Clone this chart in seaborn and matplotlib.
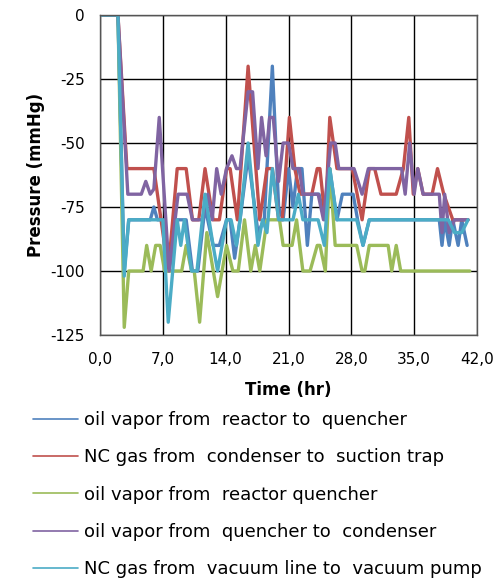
import matplotlib
matplotlib.use("Agg")
import matplotlib.pyplot as plt
import seaborn as sns
import pandas as pd

# ---- data ----
labels = [
    "oil vapor from  reactor to  quencher",
    "NC gas from  condenser to  suction trap",
    "oil vapor from  reactor quencher",
    "oil vapor from  quencher to  condenser",
    "NC gas from  vacuum line to  vacuum pump",
]
colors = ["#4F81BD", "#C0504D", "#9BBB59", "#8064A2", "#4BACC6"]

blue_t = [0, 2.0, 2.7, 3.2, 5.6, 6.0, 6.4, 7.0, 7.7, 8.6, 9.6, 10.3, 10.9, 11.7, 12.6, 13.3,
          14.1, 14.5, 15.0, 15.6, 16.5, 17.6, 18.3, 19.2, 19.9, 20.4, 21.0, 21.5, 22.0, 22.5,
          23.1, 23.6, 24.4, 25.1, 25.6, 26.4, 27.0, 28.2, 28.7, 29.3, 30.0, 37.8, 38.1, 38.4,
          38.9, 39.3, 39.9, 40.3, 40.9]
blue_v = [0, 0, -100, -80, -80, -75, -80, -80, -100, -80, -80, -100, -100, -75, -90, -90,
          -80, -80, -95, -80, -55, -85, -80, -20, -75, -80, -60, -75, -60, -60,
          -90, -70, -70, -80, -60, -80, -70, -70, -80, -90, -80, -80, -90, -80,
          -90, -80, -90, -80, -90]

red_t = [0, 2.0, 3.0, 6.0, 7.6, 8.6, 9.6, 10.3, 11.0, 11.7, 12.6, 13.3, 14.1, 14.5, 15.3,
         16.5, 17.8, 18.6, 19.2, 19.9, 20.3, 21.1, 21.7, 22.3, 23.6, 24.2, 24.5, 25.1, 25.6,
         26.4, 28.1, 29.2, 30.0, 30.6, 31.3, 33.0, 33.8, 34.4, 34.9, 35.4, 36.0, 37.0, 37.6,
         38.3, 39.3, 41.0]
red_v = [0, 0, -60, -60, -100, -60, -60, -80, -80, -60, -80, -80, -60, -60, -80,
         -20, -80, -60, -60, -80, -80, -40, -60, -70, -70, -60, -60, -80, -40,
         -60, -60, -80, -60, -60, -70, -70, -60, -40, -70, -60, -70, -70, -60,
         -70, -80, -80]

green_t = [0, 2.0, 2.7, 3.2, 4.8, 5.2, 5.7, 6.2, 6.7, 7.2, 9.1, 9.6, 10.2, 10.5, 11.1, 11.9,
           13.1, 14.1, 14.8, 15.4, 16.1, 16.8, 17.3, 17.8, 18.6, 20.0, 20.4, 21.4, 21.9, 22.6,
           23.4, 24.2, 24.5, 25.1, 25.6, 26.2, 28.6, 29.2, 29.5, 30.0, 32.1, 32.5, 33.0, 33.5,
           41.2]
green_v = [0, 0, -122, -100, -100, -90, -100, -90, -90, -100, -100, -90, -100, -100, -120, -85,
           -110, -90, -100, -100, -80, -100, -90, -100, -80, -80, -90, -90, -80, -100,
           -100, -90, -90, -100, -60, -90, -90, -100, -100, -90, -90, -100, -90, -100,
           -100]

purple_t = [0, 2.0, 3.1, 4.6, 5.1, 5.6, 6.0, 6.6, 7.7, 8.7, 9.7, 10.3, 11.4, 12.0, 12.5, 13.0,
            13.5, 14.1, 14.7, 15.2, 15.6, 16.5, 17.0, 17.6, 18.0, 18.5, 18.9, 19.3, 19.9, 20.4,
            21.0, 21.5, 22.2, 22.6, 24.3, 24.9, 25.7, 26.2, 26.6, 28.3, 29.2, 29.9, 33.6, 34.0,
            34.5, 35.0, 35.4, 36.0, 37.8, 38.1, 38.4, 38.9, 39.5, 41.0]
purple_v = [0, 0, -70, -70, -65, -70, -68, -40, -100, -70, -70, -80, -80, -70, -80, -60,
            -70, -60, -55, -60, -60, -30, -30, -60, -40, -55, -40, -40, -65, -50,
            -50, -60, -60, -70, -70, -80, -50, -50, -60, -60, -70, -60, -60, -70,
            -50, -70, -60, -70, -70, -85, -70, -85, -80, -80]

cyan_t = [0, 2.0, 2.7, 3.2, 7.0, 7.6, 8.6, 9.0, 9.4, 10.2, 10.8, 11.7, 12.6, 13.1, 14.1, 14.6,
          15.2, 15.6, 16.5, 17.6, 18.1, 18.6, 19.2, 19.9, 21.5, 22.1, 22.6, 24.3, 25.0, 25.6,
          26.4, 28.6, 29.3, 30.0, 38.8, 39.5, 40.3, 41.0]
cyan_v = [0, 0, -102, -80, -80, -120, -80, -90, -80, -100, -100, -70, -90, -100, -80, -80,
          -90, -80, -50, -90, -80, -85, -60, -80, -80, -70, -80, -80, -90, -60,
          -80, -80, -90, -80, -80, -85, -85, -80]

x_ticks = [0, 7, 14, 21, 28, 35, 42]
x_ticklabels = ["0,0", "7,0", "14,0", "21,0", "28,0", "35,0", "42,0"]
y_ticks = [0, -25, -50, -75, -100, -125]
y_ticklabels = ["0", "-25", "-50", "-75", "-100", "-125"]

# ---- build long table ----
frames = []
for lab, tt, vv in zip(labels,
                       [blue_t, red_t, green_t, purple_t, cyan_t],
                       [blue_v, red_v, green_v, purple_v, cyan_v]):
    frames.append(pd.DataFrame({"t": tt, "v": vv, "series": lab}))
df = pd.concat(frames, ignore_index=True)

sns.set_style("white")
plt.rcParams.update({
    "text.color": "black",
    "axes.labelcolor": "black",
    "xtick.color": "black",
    "ytick.color": "black",
})
fig = plt.figure(figsize=(4.98, 5.79), dpi=100)
ax = fig.add_axes([100 / 498, 1 - 335 / 579, 377 / 498, 320 / 579])

sns.lineplot(data=df, x="t", y="v", hue="series", hue_order=labels,
             palette=colors, estimator=None, sort=False, linewidth=2.4, ax=ax)

ax.set_xlim(0, 42)
ax.set_ylim(-125, 0)
ax.set_xticks(x_ticks)
ax.set_xticklabels(x_ticklabels, fontsize=11)
ax.set_yticks(y_ticks)
ax.set_yticklabels(y_ticklabels, fontsize=11)
ax.grid(True, color="black", linewidth=1.0)
ax.set_axisbelow(True)
for s in ax.spines.values():
    s.set_color("#555555")
    s.set_linewidth(1.0)
ax.tick_params(axis="x", direction="inout", length=8, width=1, color="black", pad=8)
ax.tick_params(axis="y", direction="out", length=5, width=1, color="black", pad=6)
ax.set_xlabel("Time (hr)", fontsize=12, fontweight="bold", labelpad=10, color="black")
ax.set_ylabel("Pressure (mmHg)", fontsize=12, fontweight="bold", labelpad=4, color="black")

handles, labs = ax.get_legend_handles_labels()
for h in handles:
    h.set_linewidth(1.2)
leg = ax.legend(handles, labs, loc="upper left", bbox_to_anchor=(33 / 498, 1 - 411 / 579),
                bbox_transform=fig.transFigure, frameon=False, fontsize=13,
                handlelength=2.5, handletextpad=0.3, labelspacing=1.07, borderpad=0,
                borderaxespad=0)
for txt in leg.get_texts():
    txt.set_color("black")

fig.savefig("out.png", dpi=100)
